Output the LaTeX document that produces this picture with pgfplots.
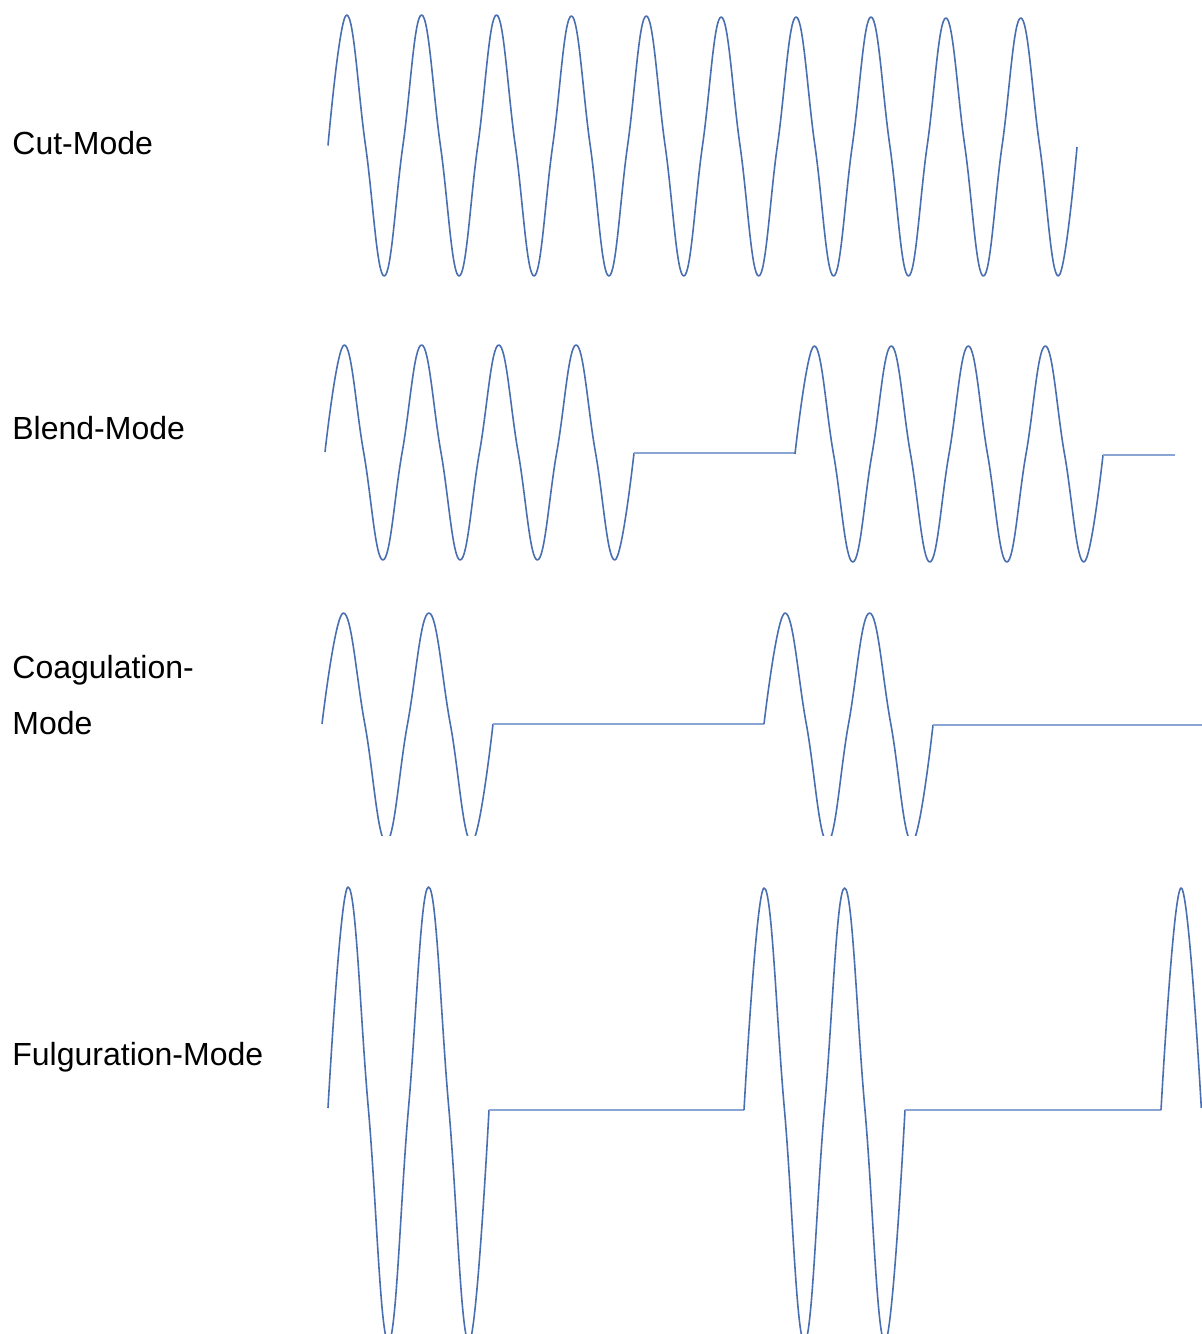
\documentclass[border=0pt]{standalone}
\usepackage{pgfplots}
\pgfplotsset{compat=1.18}
\usepackage{fontspec}
\setmainfont{Liberation Sans}
\definecolor{wave}{HTML}{4A6FB0}
\definecolor{flatc}{HTML}{8AA5D4}
\pgfplotsset{
  panel/.style={scale only axis, width=601pt, xmin=0, xmax=1202,
    y dir=reverse, hide axis, anchor=north west, clip=true},
  burst/.style={smooth, tension=0.7, color=wave, line width=0.8pt, line join=round, no marks},
  flat/.style={sharp plot, color=flatc, line width=0.7pt, no marks},
}
\begin{document}
\begin{tikzpicture}
\path[use as bounding box] (0,0) rectangle (601pt,667pt);
% labels (1px = 0.5pt)
\node[anchor=base west, inner sep=0pt, font=\fontsize{16}{19}\selectfont] at (6pt,{(1334-155)*0.5pt}) {Cut-Mode};
\node[anchor=base west, inner sep=0pt, font=\fontsize{16}{19}\selectfont] at (6pt,{(1334-440)*0.5pt}) {Blend-Mode};
\node[anchor=base west, inner sep=0pt, font=\fontsize{16}{19}\selectfont] at (6pt,{(1334-679)*0.5pt}) {Coagulation-};
\node[anchor=base west, inner sep=0pt, font=\fontsize{16}{19}\selectfont] at (6pt,{(1334-735)*0.5pt}) {Mode};
\node[anchor=base west, inner sep=0pt, font=\fontsize{16}{19}\selectfont] at (6pt,{(1334-1066)*0.5pt}) {Fulguration-Mode};

% Cut-Mode
\begin{axis}[panel, at={(0pt,667pt)}, height=150pt, ymin=0, ymax=300]
\addplot[burst] coordinates {
(328.0,145.5) (346.7,15) (365.5,145.5) (384.2,276)
(402.9,145.5) (421.6,15) (440.4,145.5) (459.1,276)
(477.8,145.5) (496.5,15) (515.3,145.5) (534.0,276)
(552.7,145.5) (571.4,16) (590.2,145.5) (608.9,276)
(627.6,145.5) (646.3,16) (665.1,145.5) (683.8,276)
(702.5,145.5) (721.2,17) (740.0,145.5) (758.7,276)
(777.4,145.5) (796.1,17) (814.9,145.5) (833.6,276)
(852.3,145.5) (871.0,17) (889.8,145.5) (908.5,276)
(927.2,145.5) (945.9,18) (964.7,145.5) (983.4,276)
(1002.1,145.5) (1020.8,18) (1039.6,145.5) (1058.3,276)
(1077.0,147)
};
\end{axis}

% Blend-Mode
\begin{axis}[panel, at={(0pt,512pt)}, height=145pt, ymin=310, ymax=600]
\addplot[burst] coordinates {
(325.0,452) (344.3,345) (363.6,452) (382.9,560)
(402.2,452) (421.6,345) (440.9,452) (460.2,560)
(479.5,452) (498.8,345) (518.1,452) (537.4,560)
(556.8,452) (576.1,345) (595.4,452) (614.7,560)
(634.0,453)
};
\addplot[flat] coordinates {(634.0,453) (795.0,453)};
\addplot[burst] coordinates {
(795.0,454) (814.3,346) (833.5,454) (852.8,562)
(872.0,454) (891.3,346) (910.5,454) (929.8,562)
(949.0,454) (968.3,346) (987.5,454) (1006.8,562)
(1026.0,454) (1045.3,346) (1064.5,454) (1083.8,562)
(1103.0,455)
};
\addplot[flat] coordinates {(1103.0,455) (1175.0,455)};
\end{axis}

% Coagulation-Mode
\begin{axis}[panel, at={(0pt,367pt)}, height=118pt, ymin=600, ymax=836]
\addplot[burst] coordinates {
(322.0,724) (343.4,613) (364.8,724) (386.1,842)
(407.5,724) (428.9,613) (450.3,724) (471.6,842)
(493.0,724)
};
\addplot[flat] coordinates {(493.0,724) (764.0,724)};
\addplot[burst] coordinates {
(764.0,724) (785.1,613) (806.3,724) (827.4,842)
(848.5,724) (869.6,613) (890.8,724) (911.9,842)
(933.0,725)
};
\addplot[flat] coordinates {(933.0,725) (1202.0,725)};
\end{axis}

% Fulguration-Mode
\begin{axis}[panel, at={(0pt,232pt)}, height=232pt, ymin=870, ymax=1334]
\addplot[burst] coordinates {
(328.0,1108) (348.1,887) (368.3,1108) (388.4,1342)
(408.5,1108) (428.6,887) (448.8,1108) (468.9,1342)
(489.0,1110)
};
\addplot[flat] coordinates {(489.0,1110) (744.0,1110)};
\addplot[burst] coordinates {
(744.0,1110) (764.1,888) (784.3,1108) (804.4,1342)
(824.5,1108) (844.6,888) (864.8,1108) (884.9,1342)
(905.0,1110)
};
\addplot[flat] coordinates {(905.0,1110) (1161.0,1110)};
\addplot[burst] coordinates {
(1161.0,1110) (1181.1,888) (1201.3,1108)
};
\end{axis}
\end{tikzpicture}
\end{document}
